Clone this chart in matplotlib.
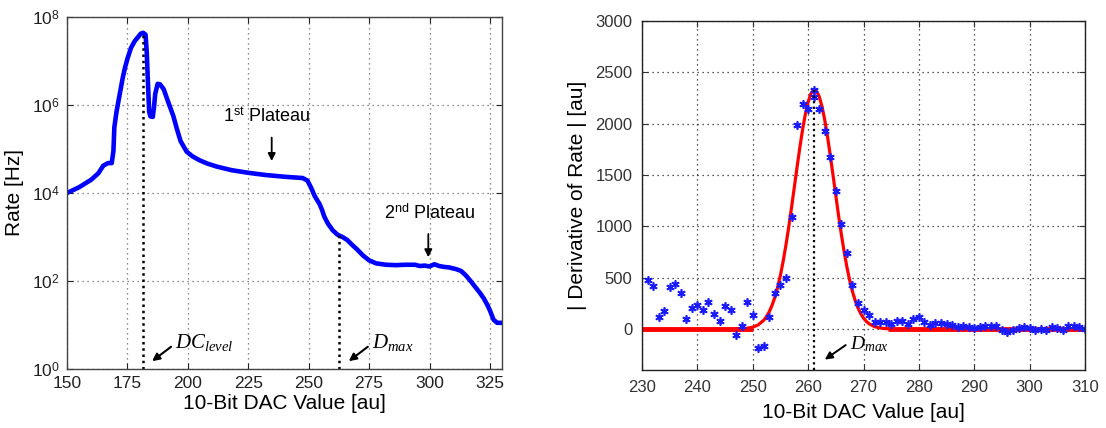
import matplotlib
matplotlib.use("Agg")
import matplotlib.pyplot as plt
from matplotlib.ticker import FixedLocator, FixedFormatter

plt.rcParams['font.family'] = ['Liberation Sans', 'DejaVu Sans']
plt.rcParams['mathtext.fontset'] = 'custom'
plt.rcParams['mathtext.rm'] = 'Liberation Sans'
plt.rcParams['mathtext.it'] = 'Liberation Serif:italic'
plt.rcParams['mathtext.bf'] = 'Liberation Sans:bold'

# ---------------- left panel data: rate vs DAC ----------------
rate_dac = [150, 155, 160, 163, 165, 167, 168.5, 169.2, 169.6, 170.5, 171.5, 173, 174, 175,
            176.5, 178, 179.5, 180.5, 181.5, 182.5, 183, 183.5, 184, 184.5, 185.5, 186, 186.5,
            187.5, 188.5, 190, 192, 194, 195.5, 197, 199.5, 202, 205, 208, 212, 218, 225, 232,
            240, 247.5, 249.5, 251, 252.5, 254.5, 255.5, 256.5, 258, 260, 262, 264, 266, 268,
            270, 272.5, 275, 278, 282, 286, 290, 294, 296, 298, 300, 302, 304, 306, 308, 311,
            313, 315, 317, 319, 321, 322.5, 324, 325, 326.5, 328, 330]
rate_hz = [1.00e4, 1.35e4, 2.00e4, 2.82e4, 4.17e4, 4.79e4, 4.79e4, 8.91e4, 3.16e5, 7.08e5,
           1.41e6, 3.98e6, 7.08e6, 1.12e7, 2.00e7, 2.82e7, 3.55e7, 4.17e7, 4.37e7, 3.98e7,
           1.58e7, 3.16e6, 7.08e5, 5.50e5, 5.37e5, 8.91e5, 1.78e6, 3.02e6, 2.95e6, 2.29e6,
           1.12e6, 5.62e5, 2.82e5, 1.51e5, 8.71e4, 6.76e4, 5.50e4, 4.68e4, 3.98e4, 3.31e4,
           2.88e4, 2.57e4, 2.34e4, 2.19e4, 1.91e4, 1.32e4, 8.51e3, 5.62e3, 4.17e3, 2.88e3,
           2.00e3, 1.41e3, 1.12e3, 1.00e3, 8.51e2, 6.61e2, 5.25e2, 3.80e2, 2.95e2, 2.51e2,
           2.34e2, 2.29e2, 2.34e2, 2.34e2, 2.19e2, 2.24e2, 2.14e2, 2.40e2, 2.19e2, 2.09e2,
           2.04e2, 1.86e2, 1.70e2, 1.35e2, 1.00e2, 72.4, 52.5, 39.8, 28.2, 21.4, 13.2, 11.2, 11.2]
left_xticks = [150, 175, 200, 225, 250, 275, 300, 325]
left_yticks = [1e0, 1e2, 1e4, 1e6, 1e8]
left_ytick_labels = [r'$10^{0}$', r'$10^{2}$', r'$10^{4}$', r'$10^{6}$', r'$10^{8}$']
dc_level_x, dc_level_top = 181.3, 4.3e7
dmax_left_x, dmax_left_top = 262.5, 1.1e3

# ---------------- right panel data: |derivative| vs DAC ----------------
deriv_dac = [231, 232, 233, 234, 235, 236, 237, 238, 239, 240, 241, 242, 243, 244, 245, 246,
             247, 248, 249, 250, 251, 252, 253, 254, 255, 256, 257, 258, 259, 260, 261, 261,
             262, 263, 264, 265, 266, 267, 268, 269, 270, 271, 272, 273, 274, 275, 276, 277,
             278, 279, 280, 281, 282, 283, 284, 285, 286, 287, 288, 289, 290, 291, 292, 293,
             294, 295, 296, 297, 298, 299, 300, 301, 302, 303, 304, 305, 306, 307, 308, 309, 310]
deriv_val = [478, 420, 114, 172, 407, 436, 355, 101, 205, 237, 180, 261, 147, 75, 227, 180,
             -58, 32, 261, 140, -190, -167, 114, 355, 429, 494, 1091, 1986, 2190, 2141, 2260, 2325,
             2147, 1931, 1672, 1343, 1027, 742, 429, 252, 180, 139, 70, 70, 70, 45, 80, 80,
             45, 95, 120, 70, 40, 60, 55, 50, 40, 20, 25, 15, 10, 15, 25, 30,
             25, -15, -25, -15, 10, 20, 5, -10, -5, -10, 15, 5, -15, 25, 30, 20, -5]
fit_dac = [247, 248, 249, 250, 251, 252, 252.5, 253, 253.5, 254, 254.5, 255, 255.5, 256,
           256.5, 257, 257.5, 258, 258.5, 259, 259.5, 260, 260.5, 261, 261.5, 262, 262.5, 263,
           263.5, 264, 264.5, 265, 265.5, 266, 266.5, 267, 267.5, 268, 268.5, 269, 269.5, 270,
           270.5, 271, 272, 273, 274, 275]
fit_val = [1, 2.5, 7, 17, 40, 86, 122, 170, 232, 310, 407, 524, 662, 819, 993, 1182, 1378,
           1576, 1766, 1942, 2093, 2211, 2292, 2328, 2319, 2265, 2168, 2036, 1874, 1691, 1497,
           1299, 1104, 921, 754, 604, 475, 366, 277, 205, 149, 106, 74, 51, 22, 9, 3.5, 0]
baseline_left = [230, 250]
baseline_right = [274.5, 310]
right_xticks = [230, 240, 250, 260, 270, 280, 290, 300, 310]
right_yticks = [0, 500, 1000, 1500, 2000, 2500, 3000]
dmax_right_x, dmax_right_top = 261.1, 2330

fig = plt.figure(figsize=(11.06, 4.28), dpi=100)

# ---------- left ----------
ax1 = fig.add_axes([67/1106, 1-369/428, (502-67)/1106, (369-17)/428])
ax1.set_yscale('log')
ax1.plot(rate_dac, rate_hz, color='#0000ff', lw=3.3, solid_joinstyle='round')
ax1.set_xlim(150, 330)
ax1.set_ylim(1, 1e8)
ax1.xaxis.set_major_locator(FixedLocator(left_xticks))
ax1.yaxis.set_major_locator(FixedLocator(left_yticks))
ax1.yaxis.set_major_formatter(FixedFormatter(left_ytick_labels))
ax1.yaxis.set_minor_locator(FixedLocator([]))
ax1.grid(True, which='major', color='#666666', linestyle=(0, (1, 3)), lw=0.9)
ax1.tick_params(direction='in', length=4, top=True, right=True, labelsize=12.5, pad=5,
                colors='#222222')
for s in ax1.spines.values():
    s.set_color('#444444')
    s.set_linewidth(1.0)
ax1.plot([dc_level_x, dc_level_x], [1, dc_level_top], color='k', lw=1.8, linestyle=(0, (1, 1.5)))
ax1.plot([dmax_left_x, dmax_left_x], [1, dmax_left_top], color='k', lw=1.8, linestyle=(0, (1, 1.5)))
ax1.set_xlabel('10-Bit DAC Value [au]', fontsize=15, labelpad=2)
ax1.set_ylabel('Rate [Hz]', fontsize=15, labelpad=6)

ax1.annotate('', xy=(184.3, 1.38), xytext=(194, 3.5),
             arrowprops=dict(arrowstyle='-|>', color='k', lw=1.5, mutation_scale=11))
ax1.text(194.8, 3.9, r'$DC_{level}$', fontsize=15, ha='left', va='center')
ax1.annotate('', xy=(265.7, 1.38), xytext=(275.4, 3.5),
             arrowprops=dict(arrowstyle='-|>', color='k', lw=1.5, mutation_scale=11))
ax1.text(276.3, 3.9, r'$D_{max}$', fontsize=15, ha='left', va='center')

ax1.text(232.6, 5.4e5, r'1$^{\rm st}$ Plateau', fontsize=13, ha='center', va='center')
ax1.annotate('', xy=(234.7, 4.6e4), xytext=(234.7, 2.1e5),
             arrowprops=dict(arrowstyle='-|>', color='k', lw=1.3, mutation_scale=11))
ax1.text(300.2, 3.5e3, r'2$^{\rm nd}$ Plateau', fontsize=13, ha='center', va='center')
ax1.annotate('', xy=(299.5, 3.0e2), xytext=(299.5, 1.35e3),
             arrowprops=dict(arrowstyle='-|>', color='k', lw=1.3, mutation_scale=11))

# ---------- right ----------
ax2 = fig.add_axes([642/1106, 1-370/428, (1085-642)/1106, (370-21)/428])
ax2.plot(baseline_left, [0, 0], color='#ff0000', lw=3.5, solid_capstyle='butt')
ax2.plot(baseline_right, [0, 0], color='#ff0000', lw=3.5, solid_capstyle='butt')
ax2.plot(fit_dac, fit_val, color='#ff0000', lw=2.3)
ax2.plot(deriv_dac, deriv_val, linestyle='none', marker=(6, 2, 0), ms=6, mew=1.2,
         color='#1a1aff')
ax2.plot([dmax_right_x, dmax_right_x], [-400, dmax_right_top], color='k', lw=1.6,
         linestyle=(0, (1, 1.5)))
ax2.set_xlim(230, 310)
ax2.set_ylim(-400, 3000)
ax2.xaxis.set_major_locator(FixedLocator(right_xticks))
ax2.yaxis.set_major_locator(FixedLocator(right_yticks))
ax2.grid(True, color='#222222', linestyle=(0, (1, 3)), lw=0.9)
ax2.tick_params(direction='in', length=4, top=True, right=True, labelsize=12, pad=7,
                colors='#333333')
for s in ax2.spines.values():
    s.set_color('#222222')
    s.set_linewidth(1.0)
ax2.set_xlabel('10-Bit DAC Value [au]', fontsize=15, labelpad=6)
ax2.set_ylabel('| Derivative of Rate | [au]', fontsize=15, labelpad=6)
ax2.annotate('', xy=(262.6, -314), xytext=(267.2, -142),
             arrowprops=dict(arrowstyle='-|>', color='k', lw=1.4, mutation_scale=11))
ax2.text(267.5, -150, r'$D_{max}$', fontsize=14, ha='left', va='center')

fig.savefig('out.png', dpi=100)
